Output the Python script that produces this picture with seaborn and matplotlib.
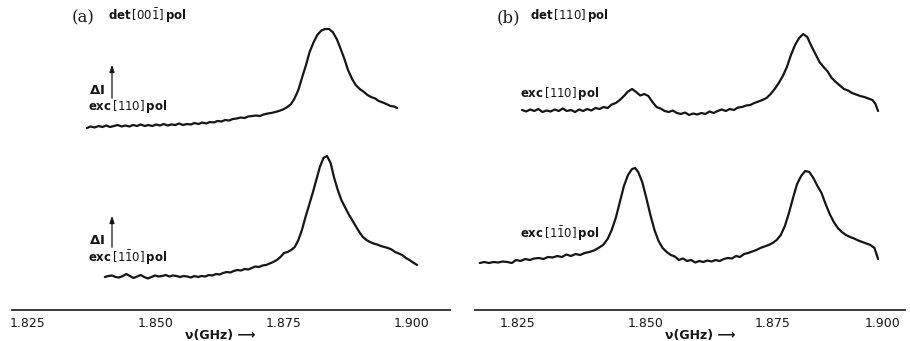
import numpy as np
import pandas as pd
import seaborn as sns
import matplotlib.pyplot as plt

# Traces: frequency (GHz) and signal height (arb. units)
a_top_freq = [1.8365, 1.8372, 1.8380, 1.8388, 1.8395, 1.8403, 1.8410, 1.8418, 1.8425, 1.8433,
              1.8440, 1.8448, 1.8455, 1.8463, 1.8470, 1.8478, 1.8485, 1.8493, 1.8500, 1.8508,
              1.8515, 1.8523, 1.8530, 1.8538, 1.8545, 1.8553, 1.8560, 1.8568, 1.8575, 1.8583,
              1.8590, 1.8598, 1.8605, 1.8613, 1.8620, 1.8628, 1.8635, 1.8643, 1.8650, 1.8658,
              1.8665, 1.8673, 1.8680, 1.8688, 1.8695, 1.8703, 1.8710, 1.8718, 1.8725, 1.8733,
              1.8740, 1.8748, 1.8755, 1.8763, 1.8770, 1.8778, 1.8785, 1.8793, 1.8800, 1.8808,
              1.8815, 1.8823, 1.8830, 1.8838, 1.8845, 1.8853, 1.8860, 1.8868, 1.8875, 1.8883,
              1.8890, 1.8898, 1.8905, 1.8913, 1.8920, 1.8928, 1.8935, 1.8943, 1.8950, 1.8958,
              1.8965, 1.8971]
a_top_sig = [182, 183.5, 182.5, 184, 183, 184.5, 183, 184, 185, 183.5,
             184.5, 183.5, 185, 184, 185.5, 184, 185, 184, 185.5, 184.5,
             186, 184.5, 185.5, 185, 186.5, 185, 186, 185.5, 187, 186,
             187.5, 186.5, 188, 187.5, 189, 188.5, 190, 189.5, 191, 191.5,
             192.5, 192, 193.5, 194, 194.5, 194, 195.5, 196.5, 197, 198,
             199, 200.5, 202.5, 205.5, 211, 220, 232, 245, 258, 268,
             275, 279.5, 281, 281, 278, 271, 262, 251, 240, 231,
             225, 221, 218.5, 215, 213, 211.5, 209, 207.5, 206, 204,
             203.5, 202]

a_bot_freq = [1.8400, 1.8407, 1.8414, 1.8421, 1.8428, 1.8435, 1.8442, 1.8449, 1.8456, 1.8463,
              1.8470, 1.8477, 1.8484, 1.8491, 1.8498, 1.8505, 1.8512, 1.8519, 1.8526, 1.8533,
              1.8540, 1.8547, 1.8554, 1.8561, 1.8568, 1.8575, 1.8582, 1.8589, 1.8596, 1.8603,
              1.8610, 1.8617, 1.8624, 1.8631, 1.8638, 1.8645, 1.8652, 1.8659, 1.8666, 1.8673,
              1.8680, 1.8687, 1.8694, 1.8701, 1.8708, 1.8715, 1.8722, 1.8729, 1.8736, 1.8743,
              1.8750, 1.8757, 1.8764, 1.8771, 1.8778, 1.8785, 1.8792, 1.8799, 1.8806, 1.8813,
              1.8820, 1.8827, 1.8834, 1.8841, 1.8848, 1.8855, 1.8862, 1.8869, 1.8876, 1.8883,
              1.8890, 1.8897, 1.8904, 1.8911, 1.8918, 1.8925, 1.8932, 1.8939, 1.8946, 1.8953,
              1.8960, 1.8967, 1.8974, 1.8981, 1.8988, 1.8995, 1.9002, 1.9010]
a_bot_sig = [33, 34, 34.5, 33, 32.5, 34, 36, 34, 32, 33.5,
             35, 33, 31.5, 33, 34.5, 33.5, 34, 35, 33.5, 34.5,
             34, 33, 34, 33.5, 32.5, 34, 33, 34, 33.5, 35,
             34.5, 36, 35.5, 37, 38, 37.5, 39, 40, 39.5, 41,
             40.5, 42, 43.5, 43, 44.5, 45, 46.5, 48, 50, 53,
             57, 58, 60, 63, 70, 80, 93, 105, 117, 130,
             143, 152, 154, 147, 132, 120, 110, 103, 96, 90,
             84, 78, 73, 70, 68, 66.5, 65.5, 64, 63, 62,
             60.5, 58, 56.5, 55, 52, 50, 47.5, 45]

b_top_freq = [1.8258, 1.8266, 1.8274, 1.8282, 1.8290, 1.8298, 1.8306, 1.8314, 1.8322, 1.8330,
              1.8338, 1.8346, 1.8354, 1.8362, 1.8370, 1.8378, 1.8386, 1.8394, 1.8402, 1.8410,
              1.8418, 1.8426, 1.8434, 1.8442, 1.8450, 1.8458, 1.8466, 1.8474, 1.8482, 1.8490,
              1.8498, 1.8506, 1.8514, 1.8522, 1.8530, 1.8538, 1.8546, 1.8554, 1.8562, 1.8570,
              1.8578, 1.8586, 1.8594, 1.8602, 1.8610, 1.8618, 1.8626, 1.8634, 1.8642, 1.8650,
              1.8658, 1.8666, 1.8674, 1.8682, 1.8690, 1.8698, 1.8706, 1.8714, 1.8722, 1.8730,
              1.8738, 1.8746, 1.8754, 1.8762, 1.8770, 1.8778, 1.8786, 1.8794, 1.8802, 1.8810,
              1.8818, 1.8826, 1.8834, 1.8842, 1.8850, 1.8858, 1.8866, 1.8874, 1.8882, 1.8890,
              1.8898, 1.8906, 1.8914, 1.8922, 1.8930, 1.8938, 1.8946, 1.8952, 1.8957]
b_top_sig = [200, 198.5, 200.5, 199, 201, 198, 199.5, 198.5, 200.5, 199,
             201.5, 199, 200, 198, 200.5, 199, 201, 199.5, 202, 201,
             203, 202, 205.5, 207, 210, 214, 218.5, 221, 218, 214.5,
             216, 214, 208, 203, 201.5, 199, 198, 199.5, 197, 196,
             197.5, 195, 196.5, 195.5, 197, 196, 198.5, 197, 199, 200.5,
             199, 201, 200, 202.5, 203, 204.5, 205, 207, 208.5, 210,
             212, 216, 221, 227, 234, 243, 255, 265, 272, 276,
             273, 264, 256, 248, 243, 238.5, 232, 228, 224.5, 221,
             219.5, 217, 215.5, 214, 213, 211.5, 210, 206, 199]

b_bot_freq = [1.8175, 1.8184, 1.8193, 1.8202, 1.8211, 1.8220, 1.8229, 1.8238, 1.8246, 1.8255,
              1.8264, 1.8273, 1.8282, 1.8291, 1.8300, 1.8309, 1.8318, 1.8327, 1.8336, 1.8345,
              1.8354, 1.8363, 1.8372, 1.8381, 1.8390, 1.8399, 1.8408, 1.8417, 1.8426, 1.8434,
              1.8442, 1.8450, 1.8458, 1.8466, 1.8474, 1.8480, 1.8486, 1.8494, 1.8502, 1.8510,
              1.8518, 1.8526, 1.8534, 1.8542, 1.8550, 1.8558, 1.8566, 1.8574, 1.8582, 1.8590,
              1.8598, 1.8606, 1.8614, 1.8622, 1.8630, 1.8638, 1.8646, 1.8654, 1.8662, 1.8670,
              1.8678, 1.8686, 1.8694, 1.8702, 1.8710, 1.8718, 1.8726, 1.8734, 1.8742, 1.8750,
              1.8758, 1.8766, 1.8774, 1.8782, 1.8790, 1.8798, 1.8806, 1.8814, 1.8822, 1.8830,
              1.8838, 1.8846, 1.8854, 1.8862, 1.8870, 1.8878, 1.8886, 1.8894, 1.8902, 1.8910,
              1.8918, 1.8926, 1.8934, 1.8942, 1.8950, 1.8957]
b_bot_sig = [47, 48, 47, 48, 47.5, 48.5, 48, 47, 50, 49,
             51, 50, 51.5, 52, 51, 53, 52.5, 54, 53, 55.5,
             54, 56, 55, 57, 58, 59.5, 62, 65, 71, 80,
             92, 108, 124, 135, 141, 142, 138, 128, 112, 95,
             80, 69, 62, 58, 55, 53.5, 50, 51.5, 49, 50,
             47.5, 49, 48, 49.5, 48.5, 50, 49, 51, 52, 51.5,
             54, 53, 56, 57, 58.5, 60, 62, 63.5, 65, 67,
             70, 75, 84, 97, 112, 126, 134, 139, 138, 132,
             124, 117, 106, 96, 88, 82, 78, 75, 73, 71.5,
             69.5, 68, 66.5, 65, 62, 51]

tick_values = [1.825, 1.850, 1.875, 1.900]
tick_labels = ["1.825", "1.850", "1.875", "1.900"]

ink = "#151515"
sns.set_theme(style="white")
plt.rcParams["font.family"] = ["DejaVu Sans"]
plt.rcParams["mathtext.fontset"] = "dejavusans"

fig = plt.figure(figsize=(9.1, 3.41), dpi=100)
ax_a = fig.add_axes([12 / 910, 31 / 341, 438 / 910, 310 / 341])
ax_b = fig.add_axes([475 / 910, 31 / 341, 430 / 910, 310 / 341])

traces = [
    (ax_a, a_top_freq, a_top_sig),
    (ax_a, a_bot_freq, a_bot_sig),
    (ax_b, b_top_freq, b_top_sig),
    (ax_b, b_bot_freq, b_bot_sig),
]
for ax, f, s in traces:
    df = pd.DataFrame({"freq": f, "signal": s})
    sns.lineplot(data=df, x="freq", y="signal", ax=ax, color=ink,
                 linewidth=1.6, estimator=None, sort=False)

ax_a.set_xlim(1.82187, 1.90742)
ax_b.set_xlim(1.81656, 1.90099)
for ax in (ax_a, ax_b):
    ax.set_ylim(0, 310)
    ax.set_yticks([])
    ax.set_xticks(tick_values)
    ax.set_xticklabels(tick_labels)
    ax.set_xlabel("")
    ax.set_ylabel("")
    ax.tick_params(axis="x", direction="in", length=3, width=1, colors=ink,
                   labelsize=9, pad=5)
    sns.despine(ax=ax, left=True, top=True, right=True)
    ax.spines["bottom"].set_color("#2a2a2a")
    ax.spines["bottom"].set_linewidth(1.3)
    ax.patch.set_alpha(0)

# keep the last label on the right panel inside the figure
ax_b.get_xticklabels()[-1].set_ha("right")

def px(x, y):
    return x / 910, 1 - y / 341

small = dict(fontsize=8.5, color=ink, ha="left", va="center", fontweight="bold")

fig.text(*px(72, 18), "(a)", family="DejaVu Serif", fontsize=12, color=ink,
         ha="left", va="center")
fig.text(*px(108, 16), r"det$\,[00\bar{1}]\,$pol", **small)
fig.text(*px(497, 18), "(b)", family="DejaVu Serif", fontsize=12, color=ink,
         ha="left", va="center")
fig.text(*px(530, 15), r"det$\,[110]\,$pol", **small)

fig.text(*px(89, 91), r"$\mathbf{\Delta}$I", fontsize=9.5, color=ink,
         ha="left", va="center", fontweight="bold")
fig.text(*px(88, 107), r"exc$\,[110]\,$pol", **small)
fig.text(*px(89, 240), r"$\mathbf{\Delta}$I", fontsize=9.5, color=ink,
         ha="left", va="center", fontweight="bold")
fig.text(*px(88, 258), r"exc$\,[1\bar{1}0]\,$pol", **small)

fig.text(*px(520, 94), r"exc$\,[110]\,$pol", **small)
fig.text(*px(520, 234), r"exc$\,[1\bar{1}0]\,$pol", **small)

# intensity arrows next to the delta-I labels
for y0, y1 in [(101, 62), (250, 213)]:
    fig.add_artist(plt.Annotation(
        "", xy=px(112, y1), xytext=px(112, y0), xycoords="figure fraction",
        textcoords="figure fraction",
        arrowprops=dict(arrowstyle="-|>,head_length=0.35,head_width=0.12",
                        color=ink, lw=0.9)))

fig.text(*px(185, 336), "ν(GHz) ⟶", fontsize=9, color=ink, ha="left",
         va="center", fontweight="bold")
fig.text(*px(665, 336), "ν(GHz) ⟶", fontsize=9, color=ink, ha="left",
         va="center", fontweight="bold")

fig.savefig("out.png", dpi=100, facecolor="white")
